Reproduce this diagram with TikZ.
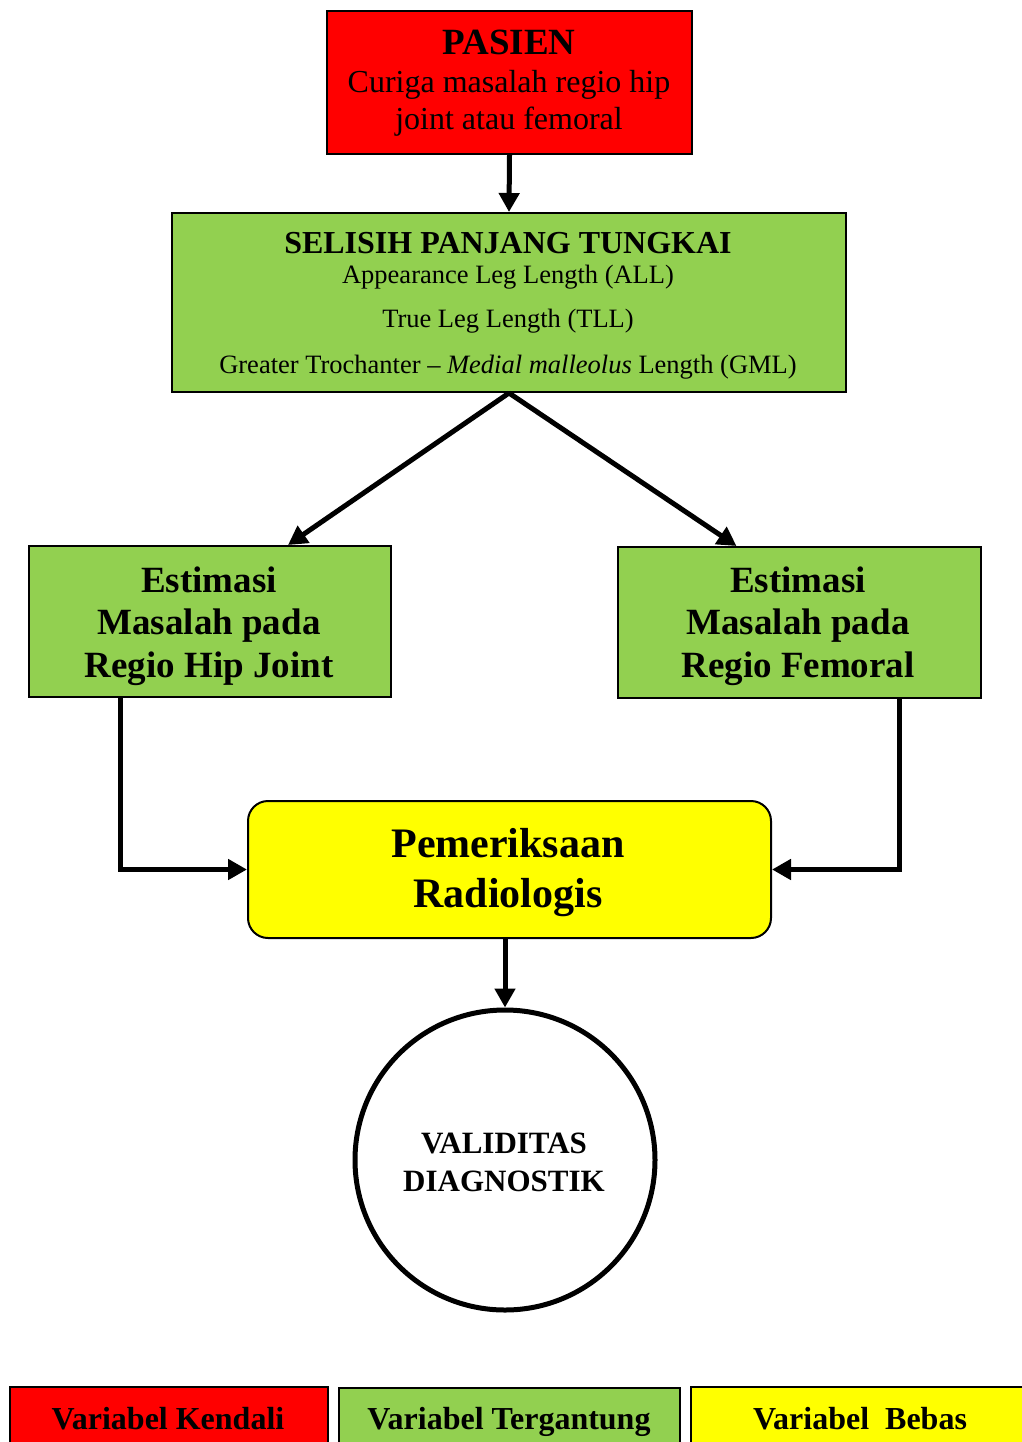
\documentclass[tikz,border=0pt]{standalone}
\usepackage{fontspec}
\setmainfont{Liberation Serif}
\usetikzlibrary{arrows.meta}

\definecolor{kendali}{HTML}{FF0000}
\definecolor{tergantung}{HTML}{92D050}
\definecolor{bebas}{HTML}{FFFF00}

\begin{document}
\begin{tikzpicture}[x=1pt, y=-1pt,
  box/.style={draw, line width=2pt, inner sep=0pt, anchor=north west},
  txt/.style={anchor=base, inner sep=0pt},
  arr/.style={line width=5pt, -{Triangle[length=19pt, width=20pt]}}]
\useasboundingbox (0,0) rectangle (1021,1442);

% kotak-kotak
\node [box, fill=kendali, minimum width=365pt, minimum height=143pt] (pasien) at (326,10) {};
\node [box, fill=tergantung, minimum width=674pt, minimum height=179pt] (selisih) at (171,212) {};
\node [box, fill=tergantung, minimum width=362pt, minimum height=151pt] (hip) at (28,545) {};
\node [box, fill=tergantung, minimum width=363pt, minimum height=151pt] (femoral) at (617,546) {};
\node [box, fill=bebas, rounded corners=20pt, minimum width=523pt, minimum height=137pt] (radiologi) at (247,800) {};
\node [draw, circle, line width=5pt, inner sep=0pt, minimum size=300pt] (validitas) at (505,1160) {};

% teks
\node [txt, font=\fontsize{37}{37}\selectfont\bfseries] (pasienA) at (509,55) {PASIEN};
\node [txt, font=\fontsize{32}{32}\selectfont] (pasienB) at (509,93) {Curiga masalah regio hip};
\node [txt, font=\fontsize{32}{32}\selectfont] (pasienC) at (509,130) {joint atau femoral};

\node [txt, font=\fontsize{32}{32}\selectfont\bfseries] (selisihA) at (508,253) {SELISIH PANJANG TUNGKAI};
\node [txt, font=\fontsize{26.5}{26.5}\selectfont] (selisihB) at (508,283) {Appearance Leg Length (ALL)};
\node [txt, font=\fontsize{26.5}{26.5}\selectfont] (selisihC) at (508,327) {True Leg Length (TLL)};
\node [txt, font=\fontsize{26.5}{26.5}\selectfont] (selisihD) at (508,373) {Greater Trochanter -- \textit{Medial malleolus} Length (GML)};

\node [txt, font=\fontsize{37}{37}\selectfont\bfseries] (hipA) at (209,592) {Estimasi};
\node [txt, font=\fontsize{37}{37}\selectfont\bfseries] (hipB) at (209,634) {Masalah pada};
\node [txt, font=\fontsize{37}{37}\selectfont\bfseries] (hipC) at (209,677) {Regio Hip Joint};

\node [txt, font=\fontsize{37}{37}\selectfont\bfseries] (femoralA) at (798,592) {Estimasi};
\node [txt, font=\fontsize{37}{37}\selectfont\bfseries] (femoralB) at (798,634) {Masalah pada};
\node [txt, font=\fontsize{37}{37}\selectfont\bfseries] (femoralC) at (798,677) {Regio Femoral};

\node [txt, font=\fontsize{42}{42}\selectfont\bfseries] (radiologiA) at (508,857) {Pemeriksaan};
\node [txt, font=\fontsize{42}{42}\selectfont\bfseries] (radiologiB) at (508,907) {Radiologis};

\node [txt, font=\fontsize{31}{31}\selectfont\bfseries] (validitasA) at (504,1153) {VALIDITAS};
\node [txt, font=\fontsize{31}{31}\selectfont\bfseries] (validitasB) at (504,1191) {DIAGNOSTIK};

% panah
\draw [arr] (pasien.south) -- (selisih.north);
\draw [arr] (selisih.south) -- ([xshift=78pt]hip.north);
\draw [arr] (selisih.south) -- ([xshift=-63pt]femoral.north);
\draw [arr] ([xshift=-90pt]hip.south) |- (radiologi.west);
\draw [arr] ([xshift=100pt]femoral.south) |- (radiologi.east);
\draw [arr] (validitas.north |- radiologi.south) -- (validitas.north);

% keterangan
\node [box, fill=kendali, minimum width=318pt, minimum height=80pt] (ketA) at (9,1386) {};
\node [box, fill=tergantung, minimum width=341pt, minimum height=80pt] (ketB) at (338,1387) {};
\node [box, fill=bebas, minimum width=340pt, minimum height=80pt] (ketC) at (690,1386) {};

\node [txt, font=\fontsize{32}{32}\selectfont\bfseries] (ketAteks) at (168,1429) {Variabel Kendali};
\node [txt, font=\fontsize{32}{32}\selectfont\bfseries] (ketBteks) at (509,1429) {Variabel Tergantung};
\node [txt, font=\fontsize{32}{32}\selectfont\bfseries] (ketCteks) at (860,1429) {Variabel\ \ Bebas};

\end{tikzpicture}
\end{document}
